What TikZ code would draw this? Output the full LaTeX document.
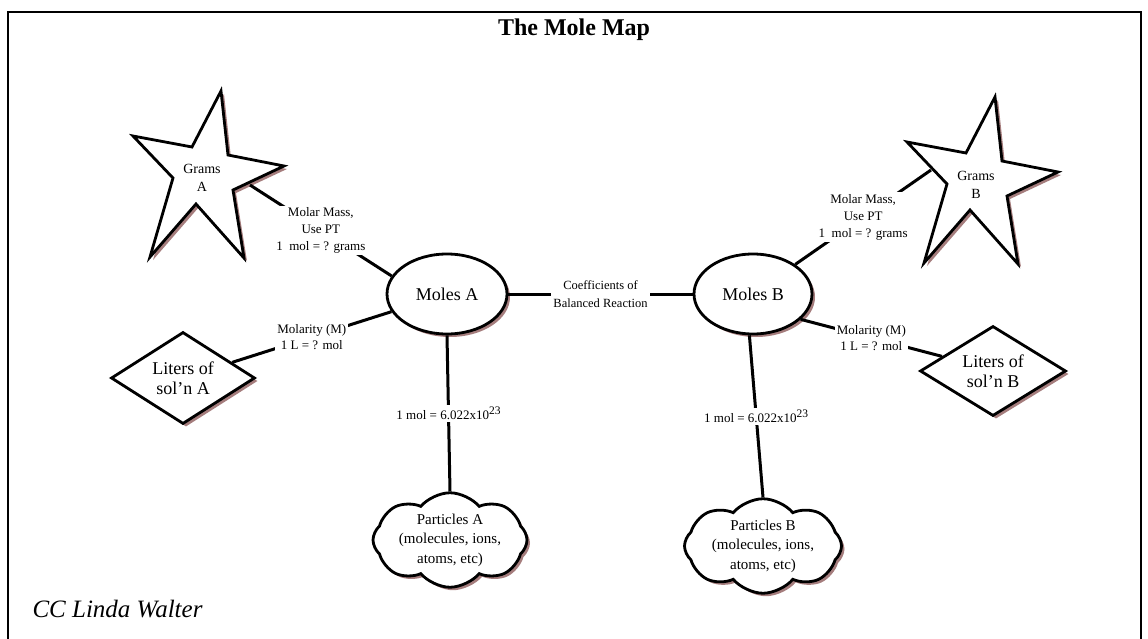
\documentclass[tikz,border=0pt]{standalone}
\usepackage{fontspec}
\setmainfont{Liberation Serif}
\usetikzlibrary{shapes.geometric,shapes.symbols,shadows}
\definecolor{shadec}{RGB}{165,125,125}
\newcommand{\molestar}{(221,91) -- (228,155) -- (284,166) -- (233,190) -- (244,258) -- (196,204) -- (150,257) -- (173,178) -- (133,136) -- (192,147) -- cycle}
\newcommand{\avsup}{\raisebox{0.42em}{\fontsize{11.5}{12}\selectfont 23}}
\begin{document}
\begin{tikzpicture}[x=1pt,y=-1pt,
  conn/.style={line width=3pt},
  lab/.style={fill=white, inner sep=2pt, align=center, font=\fontsize{13}{17}\selectfont},
  shp/.style={draw, line width=2.8pt, fill=white, general shadow={fill=shadec, shadow xshift=3pt, shadow yshift=-3pt}},
  starline/.style={draw, line width=2.8pt, fill=white, line join=miter},
  puffy/.style={shp, cloud, cloud puffs=8, cloud puff arc=100, cloud ignores aspect, inner sep=0pt, align=center, font=\fontsize{15}{19.5}\selectfont},
]
\useasboundingbox (0,0) rectangle (1148,639);
\draw[line width=2pt] (7.5,650) -- (7.5,12) -- (1141,12) -- (1141,650);

\node[font=\bfseries\fontsize{24}{28}\selectfont] (title) at (574,30) {The Mole Map};
\node[anchor=west, font=\itshape\fontsize{25}{28}\selectfont] (cc) at (29,609) {CC Linda Walter};

% stars
\begin{scope}[shift={(3,3)}]
  \fill[shadec] \molestar;
\end{scope}
\path[starline] \molestar;
\begin{scope}[shift={(777,9)}]
  \fill[shadec] \molestar;
\end{scope}
\begin{scope}[shift={(774,6)}]
  \path[starline] \molestar;
\end{scope}
\node[align=center, font=\fontsize{14}{18}\selectfont] (gA) at (202,178) {Grams\\A};
\node[align=center, font=\fontsize{14}{18}\selectfont] (gB) at (976,185) {Grams\\B};
\coordinate (sA) at (250,185);
\coordinate (sB) at (931,170);

% moles
\node[shp, ellipse, minimum width=120, minimum height=80, font=\fontsize{18}{20}\selectfont] (mA) at (447,294) {Moles A};
\node[shp, ellipse, minimum width=118, minimum height=80, font=\fontsize{18}{20}\selectfont] (mB) at (753,294) {Moles B};

% diamonds
\node[shp, diamond, aspect=1.57, inner sep=0pt, minimum width=144, minimum height=92, align=center, font=\fontsize{18}{19.5}\selectfont] (dA) at (183,378) {Liters of\\sol'n A};
\node[shp, diamond, aspect=1.57, inner sep=0pt, minimum width=146, minimum height=90, align=center, font=\fontsize{18}{19.5}\selectfont] (dB) at (993,371) {Liters of\\sol'n B};

% clouds
\node[puffy, minimum width=154, minimum height=80] (pA) at (450,540) {Particles A\\(molecules, ions,\\atoms, etc)};
\node[puffy, minimum width=157, minimum height=84] (pB) at (763,546) {Particles B\\(molecules, ions,\\atoms, etc)};

% connectors
\draw[conn] (sA) -- node[lab] {Molar Mass,\\Use PT\\1~ mol = ? grams} (mA.162);
\draw[conn] (sB) -- node[lab] {Molar Mass,\\Use PT\\1~ mol = ? grams} (mB.35);
\draw[conn] (mA.east) -- node[lab, font=\fontsize{12.5}{17.5}\selectfont] {Coefficients of\\Balanced Reaction} (mB.west);
\draw[conn] (dA) -- node[lab, font=\fontsize{13}{16.5}\selectfont] {Molarity (M)\\1 L = ? mol} (mA);
\draw[conn] (mB.332) -- node[lab, font=\fontsize{13}{16.5}\selectfont] {Molarity (M)\\1 L = ? mol} (dB.164);
\draw[conn] (mA.south) -- node[lab] {1 mol = 6.022x10\avsup} (pA.north);
\draw[conn] (mB.265) -- node[lab] {1 mol = 6.022x10\avsup} (pB.north);
\end{tikzpicture}
\end{document}
